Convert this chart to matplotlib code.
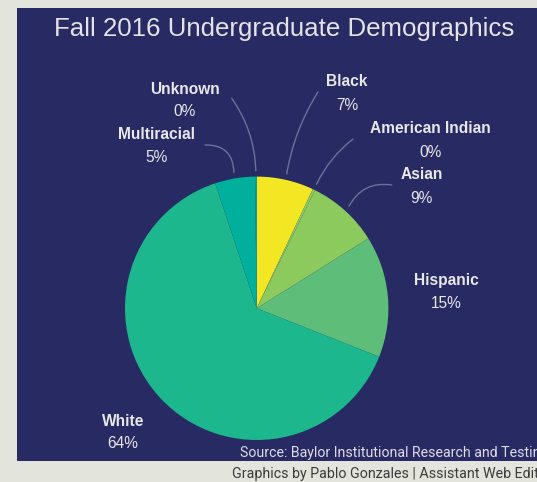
import matplotlib
matplotlib.use("Agg")
import matplotlib.pyplot as plt
from matplotlib.patches import Rectangle
import numpy as np

# ---- data ----
categories = ["Black", "American Indian", "Asian", "Hispanic", "White", "Multiracial", "Unknown"]
values = [7.0, 0.3, 8.8, 14.9, 63.9, 4.9, 0.2]
colors = ["#f3e723", "#8dca5e", "#8dca5e", "#5dbd79", "#1db78e", "#00b09d", "#00b09d"]
title = "Fall 2016 Undergraduate Demographics"
source = "Source: Baylor Institutional Research and Testing"
credit = "Graphics by Pablo Gonzales | Assistant Web Editor"

W, H = 537, 482
NAVY = "#272a63"
TXT = "#e8e8ea"
LINE = "#6d7199"

fig = plt.figure(figsize=(W / 100, H / 100), dpi=100)
fig.patch.set_facecolor("#e3e5dc")

# background / overlay axes in pixel coordinates
bg = fig.add_axes([0, 0, 1, 1])
bg.set_xlim(0, W)
bg.set_ylim(H, 0)
bg.axis("off")
bg.add_patch(Rectangle((17, 8), W - 17 + 5, 461 - 8, facecolor=NAVY, edgecolor="none", zorder=0))

bg.text(284.5, 36, title, ha="center", va="baseline", color="#e4e4e8",
        fontsize=18.6, family="Liberation Sans", zorder=3)
bg.text(240, 456.5, source, ha="left", va="baseline", color="#dcdde6",
        fontsize=10.2, family="Roboto", zorder=3)
bg.text(231.5, 478, credit, ha="left", va="baseline", color="#3a3a3a",
        fontsize=10.3, family="Roboto", zorder=3)

# pie axes: centre (256.7, 308.3) px, radius 131.7 px
cx, cy, R = 256.7, 308.3, 131.7
pie_ax = fig.add_axes([(cx - R) / W, (H - cy - R) / H, 2 * R / W, 2 * R / H], zorder=2)
pie_ax.pie(values, colors=colors, startangle=90, counterclock=False, radius=1.0,
           wedgeprops=dict(linewidth=0))
pie_ax.set_xlim(-1, 1)
pie_ax.set_ylim(-1, 1)
pie_ax.set_aspect("auto")
pie_ax.axis("off")

def px2d(px, py):
    return ((px - cx) / R, (cy - py) / R)

# label layout (pixel positions) : name baseline, pct baseline, centre x, connector start, rad
layout = {
    "Unknown":         dict(x=185,   yn=93.5,  yp=116.5, start=(231.7, 98.3),  rad=-0.15),
    "Black":           dict(x=347,   yn=86.5,  yp=110.0, start=(318.0, 92.0),  rad=0.1),
    "Multiracial":     dict(x=156.3, yn=139.0, yp=161.7, start=(205.0, 145.0), rad=-0.5),
    "American Indian": dict(x=430.5, yn=133.3, yp=156.7, start=(353.0, 139.0), rad=0.12),
    "Asian":           dict(x=421.7, yn=179.3, yp=202.7, start=(391.7, 185.0), rad=0.35),
    "Hispanic":        dict(x=446.3, yn=285.0, yp=308.0, start=None,           rad=0),
    "White":           dict(x=123.0, yn=425.7, yp=448.3, start=None,           rad=0),
}

total = sum(values)
cum = 0.0
for cat, v in zip(categories, values):
    mid = (cum + v / 2) / total * 360.0
    cum += v
    L = layout[cat]
    bg.text(L["x"], L["yn"], cat, ha="center", va="baseline", color=TXT,
            fontsize=11.2, fontweight="bold", family="Liberation Sans", zorder=3)
    bg.text(L["x"], L["yp"], f"{round(v / total * 100)}%", ha="center", va="baseline",
            color=TXT, fontsize=11.2, family="Liberation Sans", zorder=3)
    if L["start"] is not None:
        ang = np.deg2rad(90 - mid)
        end = (1.045 * np.cos(ang), 1.045 * np.sin(ang))
        pie_ax.annotate("", xy=end, xytext=px2d(*L["start"]),
                        arrowprops=dict(arrowstyle="-", color=LINE, lw=1.0,
                                        connectionstyle=f"arc3,rad={L['rad']}",
                                        shrinkA=0, shrinkB=0),
                        annotation_clip=False)

fig.savefig("out.png", dpi=100, facecolor=fig.get_facecolor())
